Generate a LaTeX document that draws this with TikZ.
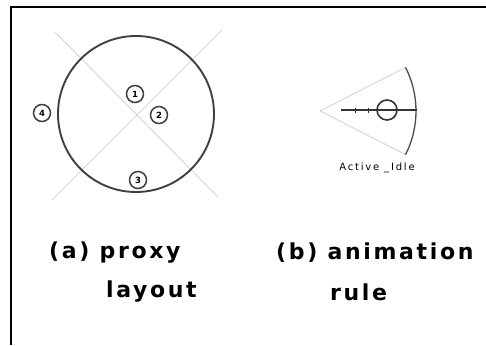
\documentclass[tikz,border=0pt]{standalone}
\usepackage{fontspec}
\setmainfont{DejaVu Sans}
\newfontfamily\capfont[LetterSpace=12]{DejaVu Sans Bold}
\newfontfamily\tagfont[LetterSpace=18]{DejaVu Sans}
\newfontfamily\numfont{DejaVu Sans Bold}
\begin{document}
\begin{tikzpicture}[x=1pt,y=-1pt,
  frame/.style={line width=2.8pt,black},
  guide/.style={gray!40,line width=0.7pt},
  rim/.style={line width=1.9pt,black!75},
  tagcircle/.style={circle,draw=black!75,line width=1.5pt,minimum size=17pt,inner sep=0pt,font=\numfont\fontsize{8.5}{8.5}\selectfont},
  caption/.style={font=\capfont\fontsize{22}{24}\selectfont,inner sep=0pt,align=left,anchor=west}]
\useasboundingbox (0,0) rectangle (486,345);
\fill[white] (0,0) rectangle (486,345);
% frame on top and left
\draw[frame] (11,345) -- (11,7) -- (486,7);

% (a) proxy layout
\coordinate (c) at (136,114);
\draw[guide] (55,32) -- (218,197);
\draw[guide] (222,30) -- (52,200);
\draw[rim] (c) circle (78);
\node[tagcircle,fill=white] (p1) at (135,94) {1};
\node[tagcircle,fill=white] (p2) at (159,115) {2};
\node[tagcircle,fill=white] (p3) at (138,180) {3};
\node[tagcircle,fill=white] (p4) at (42,113) {4};

% (b) animation rule
\coordinate (apex) at (320,111);
\draw[guide] (apex) -- ++(27:96);
\draw[guide] (apex) -- ++(-27:96);
\draw[line width=1.3pt,black!70] ([shift={(-27:96)}]apex) arc[start angle=-27,end angle=27,radius=96];
\coordinate (s0) at (341,110);
\coordinate (s1) at (417,110);
\draw[line width=1.2pt,black!80] (s0) -- (s1);
\foreach \tx in {355,368} \draw[line width=0.8pt,black!80] (\tx,107.5) -- (\tx,112.5);
\node[circle,draw=black!80,line width=1.6pt,minimum size=20pt,inner sep=0pt] (knob) at (387,110) {};
\fill[black!80] (knob.center) circle (1.2);
\node[font=\tagfont\fontsize{10}{10}\selectfont,inner sep=0pt] (state) at (377,168) {Active \_Idle};

% captions
\node[caption] (ca1) at (49,253) {(a) proxy};
\node[caption] (ca2) at (106,292) {layout};
\node[caption] (cb1) at (276,253) {(b) animation};
\node[caption] (cb2) at (330,292) {rule};
\end{tikzpicture}
\end{document}
